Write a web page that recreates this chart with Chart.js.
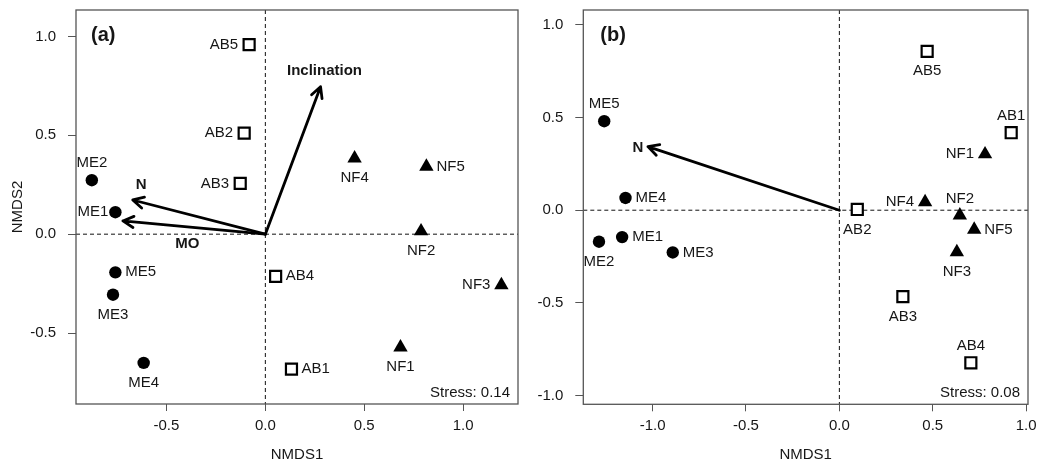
<!DOCTYPE html>
<html>
<head>
<meta charset="utf-8">
<script src="https://cdn.jsdelivr.net/npm/chart.js@4/dist/chart.umd.min.js"></script>
<style>
  html, body { margin: 0; padding: 0; background: #fff; }
  body { width: 1038px; height: 467px; position: relative; overflow: hidden; }
  canvas { position: absolute; top: 0; }
  #panelA { left: 0; }
  #panelB { left: 528px; }
</style>
</head>
<body>
<canvas id="panelA" width="528" height="467"></canvas>
<canvas id="panelB" width="510" height="467"></canvas>
<script>
// ---------- Panel (a): NMDS site scores and fitted vectors ----------
const abNames = ['AB1', 'AB2', 'AB3', 'AB4', 'AB5'];
const meNames = ['ME1', 'ME2', 'ME3', 'ME4', 'ME5'];
const nfNames = ['NF1', 'NF2', 'NF3', 'NF4', 'NF5'];

const abX_a = [0.132, -0.107, -0.127, 0.052, -0.082];
const abY_a = [-0.683, 0.511, 0.257, -0.213, 0.959];
const meX_a = [-0.758, -0.877, -0.770, -0.615, -0.758];
const meY_a = [0.111, 0.273, -0.306, -0.651, -0.193];
const nfX_a = [0.683, 0.787, 1.193, 0.451, 0.814];
const nfY_a = [-0.572, 0.015, -0.257, 0.384, 0.342];

const vecNames_a = ['N', 'MO', 'Inclination'];
const vecX_a = [-0.670, -0.720, 0.279];
const vecY_a = [0.173, 0.067, 0.746];

const xTicks_a = [-0.5, 0.0, 0.5, 1.0];
const yTicks_a = [-0.5, 0.0, 0.5, 1.0];
const stress_a = 0.14;

// ---------- Panel (b) ----------
const abX_b = [0.920, 0.096, 0.340, 0.704, 0.470];
const abY_b = [0.418, 0.004, -0.466, -0.823, 0.857];
const meX_b = [-1.163, -1.287, -0.892, -1.145, -1.259];
const meY_b = [-0.145, -0.170, -0.228, 0.066, 0.480];
const nfX_b = [0.780, 0.645, 0.629, 0.459, 0.722];
const nfY_b = [0.302, -0.028, -0.226, 0.044, -0.105];

const vecNames_b = ['N'];
const vecX_b = [-1.025];
const vecY_b = [0.343];

const xTicks_b = [-1.0, -0.5, 0.0, 0.5, 1.0];
const yTicks_b = [-1.0, -0.5, 0.0, 0.5, 1.0];
const stress_b = 0.08;

// ---------- Label placement (l = left, r = right, a = above, b = below, lc = left, close) ----------
const abPlace_a = ['r', 'l', 'l', 'r', 'l'];
const mePlace_a = ['lc', 'a', 'b', 'b', 'r'];
const nfPlace_a = ['b', 'b', 'l', 'b', 'r'];
const vecLabelAt_a = [[-0.628, 0.252], [-0.394, -0.050], [0.299, 0.825]];

const abPlace_b = ['a', 'b', 'b', 'a', 'b'];
const mePlace_b = ['r', 'b', 'r', 'r', 'a'];
const nfPlace_b = ['l', 'a', 'b', 'l', 'r'];
const vecLabelAt_b = [[-1.078, 0.334]];

// ---------- Shared styling ----------
const FONT = "'Liberation Sans', Arial, Helvetica, sans-serif";
const INK = '#161616';
const FRAME = '#555555';
Chart.defaults.font.family = FONT;
Chart.defaults.color = INK;

const pts = (xs, ys) => xs.map((x, i) => ({ x, y: ys[i] }));

// Draws the frame, dashed zero lines, vectors and all text of one ordination panel
const ordinationPlugin = {
  id: 'ordination',
  beforeDatasetsDraw(chart) {
    const { ctx, chartArea: a, scales: { x, y } } = chart;
    const cfg = chart.options.plugins.ordination;
    const x0 = x.getPixelForValue(0), y0 = y.getPixelForValue(0);
    ctx.save();
    ctx.strokeStyle = '#111';
    ctx.lineWidth = 1;
    ctx.setLineDash([4, 3]);
    ctx.beginPath();
    ctx.moveTo(x0, a.top); ctx.lineTo(x0, a.bottom);
    ctx.moveTo(a.left, y0); ctx.lineTo(a.right, y0);
    ctx.stroke();
    ctx.setLineDash([]);

    // fitted environmental vectors
    ctx.strokeStyle = '#000';
    ctx.lineWidth = 2.8;
    ctx.lineCap = 'round';
    ctx.lineJoin = 'round';
    cfg.vecX.forEach((vx, i) => {
      const tx = x.getPixelForValue(vx), ty = y.getPixelForValue(cfg.vecY[i]);
      const ang = Math.atan2(ty - y0, tx - x0);
      const L = 12, spread = Math.PI / 6.5;
      ctx.beginPath();
      ctx.moveTo(x0, y0); ctx.lineTo(tx, ty);
      ctx.moveTo(tx - L * Math.cos(ang - spread), ty - L * Math.sin(ang - spread));
      ctx.lineTo(tx, ty);
      ctx.lineTo(tx - L * Math.cos(ang + spread), ty - L * Math.sin(ang + spread));
      ctx.stroke();
    });
    ctx.restore();
  },
  afterDatasetsDraw(chart) {
    const { ctx, chartArea: a, scales: { x, y } } = chart;
    const cfg = chart.options.plugins.ordination;
    ctx.save();
    // plot frame
    ctx.strokeStyle = FRAME;
    ctx.lineWidth = 1.3;
    ctx.strokeRect(a.left, a.top, a.right - a.left, a.bottom - a.top);

    // site labels
    ctx.fillStyle = INK;
    ctx.font = '15px ' + FONT;
    ctx.textBaseline = 'middle';
    cfg.labels.forEach((set, di) => {
      const meta = chart.getDatasetMeta(di);
      set.names.forEach((name, i) => {
        const el = meta.data[i];
        const p = set.place[i];
        let tx = el.x, ty = el.y;
        if (p === 'l') { ctx.textAlign = 'right'; tx -= 11; }
        else if (p === 'lc') { ctx.textAlign = 'right'; tx -= 7; }
        else if (p === 'r') { ctx.textAlign = 'left'; tx += 10; }
        else if (p === 'a') { ctx.textAlign = 'center'; ty -= 17; }
        else { ctx.textAlign = 'center'; ty += 20; }
        ctx.fillText(name, tx, ty);
      });
    });

    // vector labels
    ctx.font = 'bold 15px ' + FONT;
    ctx.textAlign = 'center';
    cfg.vecNames.forEach((n, i) => {
      const [lx, ly] = cfg.vecLabelAt[i];
      ctx.fillText(n, x.getPixelForValue(lx), y.getPixelForValue(ly));
    });

    // panel letter
    ctx.font = 'bold 20px ' + FONT;
    ctx.textAlign = 'left';
    ctx.fillText(cfg.letter, a.left + cfg.letterDx, a.top + 25);

    // stress
    ctx.font = '15px ' + FONT;
    ctx.textAlign = 'right';
    ctx.fillText('Stress: ' + cfg.stress.toFixed(2), a.right - 8, a.bottom - 11);
    ctx.restore();
  }
};

function makePanel(canvasId, d) {
  const fixTicks = list => scale => { scale.ticks = list.map(v => ({ value: v })); };
  const noPad = s => { s.paddingTop = 0; s.paddingBottom = 0; s.paddingLeft = 0; s.paddingRight = 0; };
  return new Chart(document.getElementById(canvasId), {
    type: 'scatter',
    data: {
      datasets: [
        { data: pts(d.abX, d.abY), pointStyle: 'rect', radius: 7.8, hoverRadius: 7.8,
          backgroundColor: '#fff', borderColor: '#000', borderWidth: 2.2 },
        { data: pts(d.meX, d.meY), pointStyle: 'circle', radius: 6.2, hoverRadius: 6.2,
          backgroundColor: '#000', borderColor: '#000', borderWidth: 0 },
        { data: pts(d.nfX, d.nfY), pointStyle: 'triangle', radius: 8.3, hoverRadius: 8.3,
          backgroundColor: '#000', borderColor: '#000', borderWidth: 0 }
      ]
    },
    options: {
      responsive: false,
      animation: false,
      devicePixelRatio: 1,
      events: [],
      layout: { padding: { top: d.top, right: d.right, left: 0, bottom: 0 } },
      plugins: {
        legend: { display: false },
        tooltip: { enabled: false },
        ordination: {
          vecX: d.vecX, vecY: d.vecY, vecNames: d.vecNames, vecLabelAt: d.vecLabelAt,
          labels: [
            { names: abNames, place: d.abPlace },
            { names: meNames, place: d.mePlace },
            { names: nfNames, place: d.nfPlace }
          ],
          letter: d.letter, letterDx: d.letterDx, stress: d.stress
        }
      },
      scales: {
        x: {
          type: 'linear', min: d.xMin, max: d.xMax,
          afterBuildTicks: fixTicks(d.xTicks),
          afterFit: s => { s.height = d.xAxisH; noPad(s); },
          grid: { drawOnChartArea: false, drawTicks: true, tickLength: 7, color: FRAME, lineWidth: 1 },
          border: { display: false },
          ticks: { padding: 6, font: { size: 15 }, color: INK, callback: v => v.toFixed(1), maxRotation: 0 },
          title: { display: true, text: 'NMDS1', font: { size: 15 }, color: INK, padding: { top: 0, bottom: 3 } }
        },
        y: {
          type: 'linear', min: d.yMin, max: d.yMax,
          afterBuildTicks: fixTicks(d.yTicks),
          afterFit: s => { s.width = d.yAxisW; noPad(s); },
          grid: { drawOnChartArea: false, drawTicks: true, tickLength: 8, color: FRAME, lineWidth: 1 },
          border: { display: false },
          ticks: { padding: 12, font: { size: 15 }, color: INK, callback: v => v.toFixed(1) },
          title: { display: d.yTitle, text: 'NMDS2', font: { size: 15 }, color: INK, padding: { top: 9, bottom: 0 } }
        }
      }
    },
    plugins: [ordinationPlugin]
  });
}

makePanel('panelA', {
  abX: abX_a, abY: abY_a, meX: meX_a, meY: meY_a, nfX: nfX_a, nfY: nfY_a,
  abPlace: abPlace_a, mePlace: mePlace_a, nfPlace: nfPlace_a,
  vecX: vecX_a, vecY: vecY_a, vecNames: vecNames_a, vecLabelAt: vecLabelAt_a,
  xTicks: xTicks_a, yTicks: yTicks_a,
  xMin: -0.957, xMax: 1.277, yMin: -0.859, yMax: 1.134,
  top: 8, right: 6.3, yAxisW: 76, xAxisH: 63, yTitle: true,
  letter: '(a)', letterDx: 15, stress: stress_a
});

makePanel('panelB', {
  abX: abX_b, abY: abY_b, meX: meX_b, meY: meY_b, nfX: nfX_b, nfY: nfY_b,
  abPlace: abPlace_b, mePlace: mePlace_b, nfPlace: nfPlace_b,
  vecX: vecX_b, vecY: vecY_b, vecNames: vecNames_b, vecLabelAt: vecLabelAt_b,
  xTicks: xTicks_b, yTicks: yTicks_b,
  xMin: -1.371, xMax: 1.010, yMin: -1.047, yMax: 1.080,
  top: 7.3, right: 6.3, yAxisW: 55.3, xAxisH: 62.7, yTitle: false,
  letter: '(b)', letterDx: 17, stress: stress_b
});
</script>
</body>
</html>
